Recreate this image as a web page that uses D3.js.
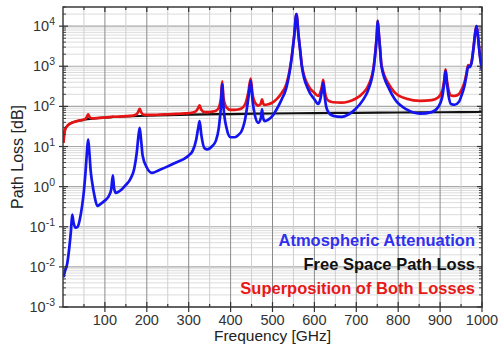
<!DOCTYPE html>
<html><head><meta charset="utf-8">
<script src="https://cdn.jsdelivr.net/npm/d3@7"></script>
<style>
html,body{margin:0;padding:0;background:#fff;}
svg{display:block;font-family:"Liberation Sans",Arial,sans-serif;}
</style></head>
<body><svg id="chart" width="504" height="353"></svg>
<script>
// ---------- data ----------
const freq = [1,5,10,15,19,22,25,30,35,40,45,50,54,57,60,63,66,70,75,82,90,100,110,115,119,122,126,140,150,160,170,176,180,183,186,190,200,212,230,250,270,290,300,310,318,323,326,330,338,345,355,365,372,377,380,383,390,400,410,420,426,435,442,448,452,458,466,472,475,478,482,490,498,510,522,532,543,548,552,557,562,566,570,585,600,609,614,618,621,624,628,634,645,665,680,697,717,729,742,746,749,751,754,757,760,779,792,820,852,880,895,905,910,913,916,920,926,935,945,952,958,963,967,971,975,980,984,987,990,995,1000];
const atmosphericAttenuation = [0.0055,0.008,0.012,0.03,0.08,0.2,0.13,0.095,0.1,0.15,0.3,0.8,2.5,7,15,7,2.5,1.2,0.6,0.33,0.37,0.45,0.6,0.85,1.9,0.9,0.7,0.85,1.1,1.5,2.8,7,18,29,16,6,3,2.2,2.6,3.2,4,5,6,8,15,30,43,20,9,8.5,10,14,30,100,355,100,30,17,17,20,24,50,150,430,150,60,39,50,84,50,43,47,55,85,150,266,1000,2500,6000,20000,6000,2500,1000,266,150,115,150,250,390,200,100,70,58,55,62,84,150,266,1000,2500,6000,13500,6000,2500,1000,266,150,84,66,72,95,170,400,765,400,190,115,110,130,200,320,600,1000,950,1200,3000,7000,10000,6000,1800,800];
const superposition = [12.4,26.4,32.4,36.0,38.1,39.5,40.5,42.1,43.4,44.7,45.8,47.2,49.6,54.6,63.0,55.4,51.3,50.5,50.5,51.0,51.9,52.9,53.9,54.6,55.9,55.1,55.1,56.3,57.1,58.0,59.9,64.4,75.5,86.7,73.8,64.0,61.5,61.2,62.3,63.6,65.1,66.7,68.0,70.3,77.5,92.6,105.7,82.8,72.0,71.7,73.4,77.7,93.9,164,419,164,94.3,81.5,81.7,84.9,89.0,115,215,495,216,126,105,116,150,116,109,113,121,152,217,333,1067,2567,6067,20067,6067,2568,1068,334,218,183,218,318,458,268,168,138,127,124,131,153,220,336,1070,2570,6070,13570,6070,2570,1070,336,220,155,137,143,166,242,472,837,472,262,187,182,202,272,392,672,1072,1022,1272,3072,7072,10072,6072,1872,872];
const fsplFreq = [1,2,3,5,7,10,15,20,30,40,50,70,100,150,200,300,400,500,600,700,800,900,1000];
const freeSpacePathLoss = [12.4,18.5,22.0,26.4,29.3,32.4,36.0,38.5,42.0,44.5,46.4,49.3,52.4,56.0,58.5,62.0,64.5,66.4,68.0,69.3,70.5,71.5,72.4];
const xTickValues = [100,200,300,400,500,600,700,800,900,1000];
const yTickExponents = [-3,-2,-1,0,1,2,3,4];
const legendLabels = ["Atmospheric Attenuation","Free Space Path Loss","Superposition of Both Losses"];

// ---------- layout ----------
const svg = d3.select("#chart");
const L = 63, R = 482, T = 7, B = 307;
const x = d3.scaleLinear().domain([0,1000]).range([L,R]);
const y = d3.scaleLog().domain([1e-3,3e4]).range([B,T]);

const BLUE = "#1414f0", RED = "#e61414", BLACK = "#111";

// grid
const grid = svg.append("g");
const minorY = [];
for (let e=-3;e<=4;e++) for (let m=2;m<=9;m++){ const v=m*Math.pow(10,e); if(v<=3e4) minorY.push(v); }
grid.selectAll("line.hmin").data(minorY).join("line")
  .attr("x1",L).attr("x2",R).attr("y1",d=>y(d)).attr("y2",d=>y(d))
  .attr("stroke","#dcdcdc").attr("stroke-width",1);
grid.selectAll("line.hmaj").data(yTickExponents.map(e=>Math.pow(10,e))).join("line")
  .attr("x1",L).attr("x2",R).attr("y1",d=>y(d)).attr("y2",d=>y(d))
  .attr("stroke","#a8a8a8").attr("stroke-width",1.2);
const vMinor = d3.range(50,1000,100);
grid.selectAll("line.vmin").data(vMinor).join("line")
  .attr("y1",T).attr("y2",B).attr("x1",d=>x(d)).attr("x2",d=>x(d))
  .attr("stroke","#cfcfcf").attr("stroke-width",1);
grid.selectAll("line.vmaj").data(xTickValues).join("line")
  .attr("y1",T).attr("y2",B).attr("x1",d=>x(d)).attr("x2",d=>x(d))
  .attr("stroke","#8a8a8a").attr("stroke-width",1);

// clip
svg.append("clipPath").attr("id","clip").append("rect").attr("x",L).attr("y",T).attr("width",R-L).attr("height",B-T);

const line = d3.line().curve(d3.curveMonotoneX);
const plot = svg.append("g").attr("clip-path","url(#clip)");
plot.append("path")
  .attr("d", line(fsplFreq.map((f,i)=>[x(f), y(freeSpacePathLoss[i])])))
  .attr("fill","none").attr("stroke",BLACK).attr("stroke-width",2.2);
plot.append("path")
  .attr("d", line(freq.map((f,i)=>[x(f), y(superposition[i])])))
  .attr("fill","none").attr("stroke",RED).attr("stroke-width",2.7).attr("stroke-linejoin","round");
plot.append("path")
  .attr("d", line(freq.map((f,i)=>[x(f), y(atmosphericAttenuation[i])])))
  .attr("fill","none").attr("stroke",BLUE).attr("stroke-width",2.7).attr("stroke-linejoin","round");

// frame
svg.append("rect").attr("x",L).attr("y",T).attr("width",R-L).attr("height",B-T)
  .attr("fill","none").attr("stroke","#333").attr("stroke-width",1.4);

// ticks
const tk = svg.append("g").attr("stroke","#333").attr("stroke-width",1.2);
xTickValues.forEach(v=>{
  tk.append("line").attr("x1",x(v)).attr("x2",x(v)).attr("y1",B-5).attr("y2",B+5);
  tk.append("line").attr("x1",x(v)).attr("x2",x(v)).attr("y1",T).attr("y2",T+5);
});
vMinor.forEach(v=>{
  tk.append("line").attr("x1",x(v)).attr("x2",x(v)).attr("y1",B).attr("y2",B-3);
  tk.append("line").attr("x1",x(v)).attr("x2",x(v)).attr("y1",T).attr("y2",T+3);
});
yTickExponents.forEach(e=>{
  const yy=y(Math.pow(10,e));
  tk.append("line").attr("x1",L-4).attr("x2",L+5).attr("y1",yy).attr("y2",yy);
  tk.append("line").attr("x1",R-5).attr("x2",R).attr("y1",yy).attr("y2",yy);
});
minorY.forEach(v=>{
  const yy=y(v);
  tk.append("line").attr("x1",L).attr("x2",L+3).attr("y1",yy).attr("y2",yy).attr("stroke-width",0.9);
  tk.append("line").attr("x1",R-3).attr("x2",R).attr("y1",yy).attr("y2",yy).attr("stroke-width",0.9);
});

// tick labels
const lab = svg.append("g").attr("fill","#333").attr("font-size",14.5);
xTickValues.forEach(v=>{
  lab.append("text").attr("x",x(v)).attr("y",325).attr("text-anchor","middle").text(v);
});
yTickExponents.forEach(e=>{
  const t = lab.append("text").attr("x",55).attr("y",y(Math.pow(10,e))+5).attr("text-anchor","end");
  t.append("tspan").text("10");
  t.append("tspan").attr("dy",-6).attr("font-size",10.5).text(e);
});

// axis titles
svg.append("text").attr("x",(L+R)/2).attr("y",341).attr("text-anchor","middle")
  .attr("font-size",15.5).attr("fill","#222").text("Frequency [GHz]");
svg.append("text").attr("transform",`translate(23,${(T+B)/2}) rotate(-90)`).attr("text-anchor","middle")
  .attr("font-size",16).attr("fill","#222").text("Path Loss [dB]");

// legend
const legColors = ["#3030ee","#111","#e81818"];
const legY = [246,270,294];
legendLabels.forEach((s,i)=>{
  svg.append("text").attr("x",475).attr("y",legY[i]).attr("text-anchor","end")
    .attr("font-size",16.5).attr("font-weight","bold").attr("fill",legColors[i]).text(s);
});
</script></body></html>
